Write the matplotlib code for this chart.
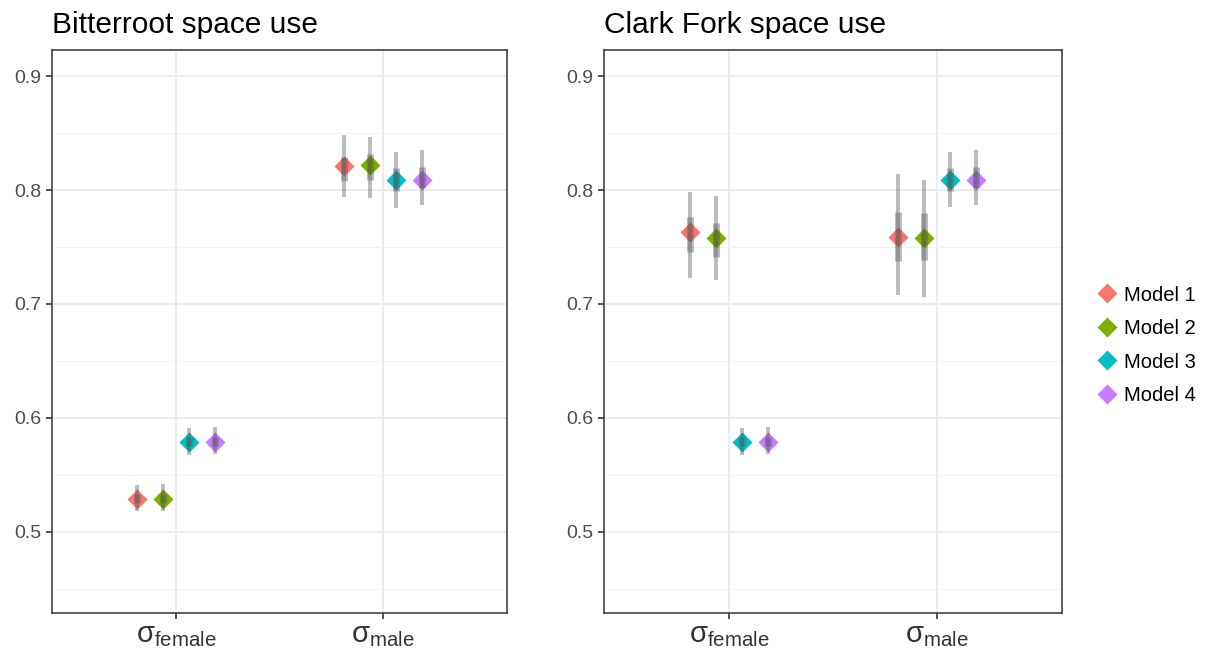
import numpy as np
import matplotlib
matplotlib.use("Agg")
import matplotlib.pyplot as plt
from matplotlib.lines import Line2D

plt.rcParams['font.family'] = ['Liberation Sans', 'DejaVu Sans']
plt.rcParams['mathtext.fontset'] = 'custom'
plt.rcParams['mathtext.rm'] = 'Liberation Sans'
plt.rcParams['mathtext.it'] = 'Liberation Sans'

params = ['female', 'male']
models = ['Model 1', 'Model 2', 'Model 3', 'Model 4']
colors = ['#F8766D', '#7CAE00', '#00BFC4', '#C77CFF']
titles = ['Bitterroot space use', 'Clark Fork space use']

# per panel: [param][model]
est_bitter = [[0.529, 0.529, 0.579, 0.579],
              [0.821, 0.822, 0.809, 0.809]]
lo_bitter = [[0.518, 0.518, 0.567, 0.568],
             [0.794, 0.793, 0.784, 0.787]]
hi_bitter = [[0.541, 0.542, 0.591, 0.592],
             [0.848, 0.847, 0.833, 0.835]]
ilo_bitter = [[0.525, 0.525, 0.575, 0.575],
              [0.808, 0.809, 0.799, 0.802]]
ihi_bitter = [[0.533, 0.533, 0.583, 0.583],
              [0.829, 0.832, 0.819, 0.820]]

est_clark = [[0.763, 0.758, 0.579, 0.579],
             [0.759, 0.758, 0.809, 0.809]]
lo_clark = [[0.723, 0.721, 0.567, 0.568],
            [0.708, 0.706, 0.785, 0.787]]
hi_clark = [[0.798, 0.795, 0.591, 0.592],
            [0.814, 0.809, 0.833, 0.835]]
ilo_clark = [[0.746, 0.741, 0.575, 0.575],
             [0.738, 0.739, 0.799, 0.802]]
ihi_clark = [[0.776, 0.771, 0.583, 0.583],
             [0.781, 0.780, 0.819, 0.820]]

panels = [
    (est_bitter, lo_bitter, hi_bitter, ilo_bitter, ihi_bitter),
    (est_clark, lo_clark, hi_clark, ilo_clark, ihi_clark),
]

fig = plt.figure(figsize=(12.15, 6.49), dpi=100)
axes = [fig.add_axes([0.0428, 0.056, 0.3745, 0.867]),
        fig.add_axes([0.4972, 0.056, 0.3770, 0.867])]

offsets = [-0.1875, -0.0625, 0.0625, 0.1875]

for ax, title, (est, lo, hi, ilo, ihi) in zip(axes, titles, panels):
    for p in range(len(params)):
        for m in range(len(models)):
            x = p + 1 + offsets[m]
            ax.plot([x], [est[p][m]], marker='D', ms=10.5, color=colors[m],
                    mec='none', zorder=3)
            ax.plot([x, x], [lo[p][m], hi[p][m]], color='#555555',
                    alpha=0.4, lw=2.8, solid_capstyle='butt', zorder=4)
            ax.plot([x, x], [ilo[p][m], ihi[p][m]], color='#555555',
                    alpha=0.4, lw=5.0, solid_capstyle='butt', zorder=4)
    ax.set_xlim(0.4, 2.6)
    ax.set_ylim(0.429, 0.923)
    ax.set_yticks([0.5, 0.6, 0.7, 0.8, 0.9])
    ax.set_yticks([0.45, 0.55, 0.65, 0.75, 0.85], minor=True)
    ax.set_xticks([1, 2])
    ax.set_xticklabels([r'$\mathregular{σ_{female}}$', r'$\mathregular{σ_{male}}$'],
                       fontsize=21, color='#333333')
    ax.tick_params(axis='y', labelsize=14, labelcolor='#4D4D4D', color='#333333',
                   length=4, width=1.2)
    ax.tick_params(axis='x', color='#333333', length=4, width=1.2, pad=2)
    ax.tick_params(which='minor', length=0)
    ax.grid(which='major', color='#EBEBEB', lw=1.3)
    ax.grid(which='minor', axis='y', color='#F2F2F2', lw=0.7)
    ax.set_axisbelow(True)
    for s in ax.spines.values():
        s.set_color('#333333')
        s.set_linewidth(1.1)
    ax.set_title(title, loc='left', fontsize=21.5, pad=12)

handles = [Line2D([], [], marker='D', ls='none', ms=10.5, color=c, mec='none')
           for c in colors]
fig.legend(handles, models, loc='center left', bbox_to_anchor=(0.888, 0.468),
           frameon=False, fontsize=14.5, handletextpad=0.35, labelspacing=0.72,
           handlelength=1.0)

fig.savefig('out.png', dpi=100)
